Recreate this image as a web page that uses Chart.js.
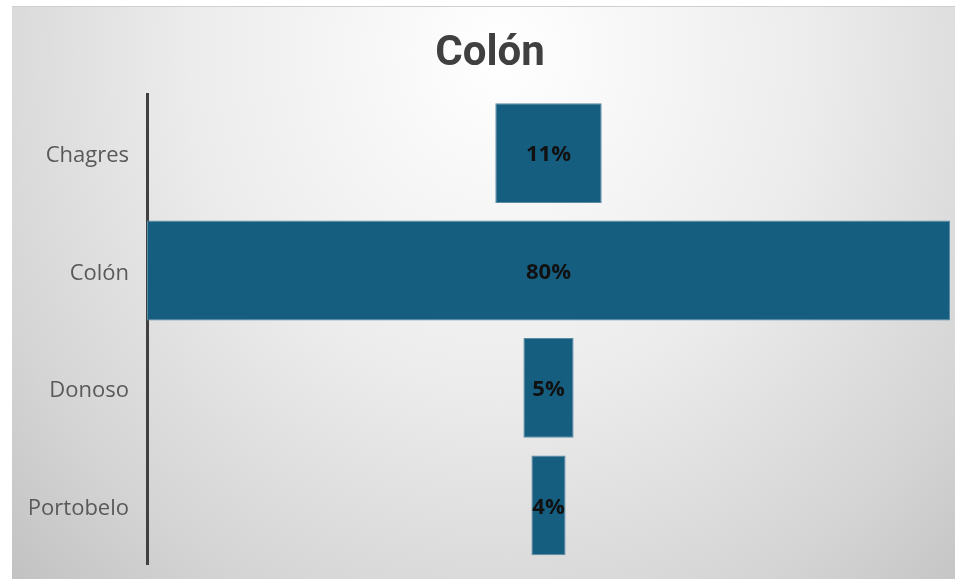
<!DOCTYPE html>
<html>
<head>
<meta charset="utf-8">
<script src="https://cdn.jsdelivr.net/npm/chart.js@4"></script>
<style>
  html, body { margin: 0; padding: 0; background: #fff; overflow: hidden; }
  #wrap {
    position: absolute; left: 12px; top: 6px; width: 943px; height: 572px;
    border-top: 1px solid #cfcfcf;
    background: radial-gradient(ellipse farthest-corner at 52% 8%, #ffffff 0%, #ececec 45%, #d4d4d4 80%, #c2c2c2 100%);
  }
</style>
</head>
<body>
<div id="wrap"><canvas id="chart-1" width="943" height="572"></canvas></div>
<script>
const TITLE = 'Colón';
const districts = ['Chagres', 'Colón', 'Donoso', 'Portobelo'];
const shares = [10.6, 80, 5.0, 3.4];          // ancho de cada barra
const shareLabels = ['11%', '80%', '5%', '4%']; // texto mostrado
const MAX_SHARE = 80;
const BAR_COLOR = '#165E80';

// barras flotantes centradas -> embudo
function funnelData(values, max) {
  return values.map(v => [(max - v) / 2, (max + v) / 2]);
}

const barLabels = {
  id: 'barLabels',
  afterDatasetsDraw(chart) {
    const ctx = chart.ctx;
    const meta = chart.getDatasetMeta(0);
    ctx.save();
    ctx.font = 'bold 22px "Open Sans", sans-serif';
    ctx.fillStyle = '#111';
    ctx.textAlign = 'center';
    ctx.textBaseline = 'middle';
    meta.data.forEach((bar, i) => {
      const p = bar.getProps(['x', 'base', 'y'], true);
      ctx.fillText(shareLabels[i], (p.x + p.base) / 2, p.y + 2);
    });
    ctx.restore();
  }
};

function createChart(id) {
  const el = document.getElementById(id);
  if (!el) return;
  return new Chart(el, {
    type: 'bar',
    data: {
      labels: districts,
      datasets: [{
        data: funnelData(shares, MAX_SHARE),
        backgroundColor: BAR_COLOR,
        borderColor: '#5b8aa3',
        borderWidth: 1,
        borderSkipped: false,
        categoryPercentage: 1,
        barPercentage: 0.85
      }]
    },
    options: {
      indexAxis: 'y',
      responsive: false,
      animation: false,
      layout: { padding: { left: 18, right: 5, bottom: 15 } },
      plugins: {
        legend: { display: false },
        tooltip: { enabled: false },
        title: {
          display: true,
          text: TITLE,
          color: '#404040',
          font: { family: 'Roboto', size: 42, weight: 'bold' },
          padding: { top: 22, bottom: 15 }
        }
      },
      scales: {
        x: { display: false, min: 0, max: MAX_SHARE },
        y: {
          grid: { display: false, drawTicks: false },
          border: { display: true, color: '#404040', width: 3 },
          ticks: {
            color: '#595959',
            padding: 18,
            labelOffset: 3,
            font: { family: '"Open Sans", sans-serif', size: 22 }
          },
          afterFit(scale) {
            scale.width = 117;
            scale.paddingTop = 0;
            scale.paddingBottom = 0;
          }
        }
      }
    },
    plugins: [barLabels]
  });
}

const chart1 = createChart('chart-1');
</script>
</body>
</html>
